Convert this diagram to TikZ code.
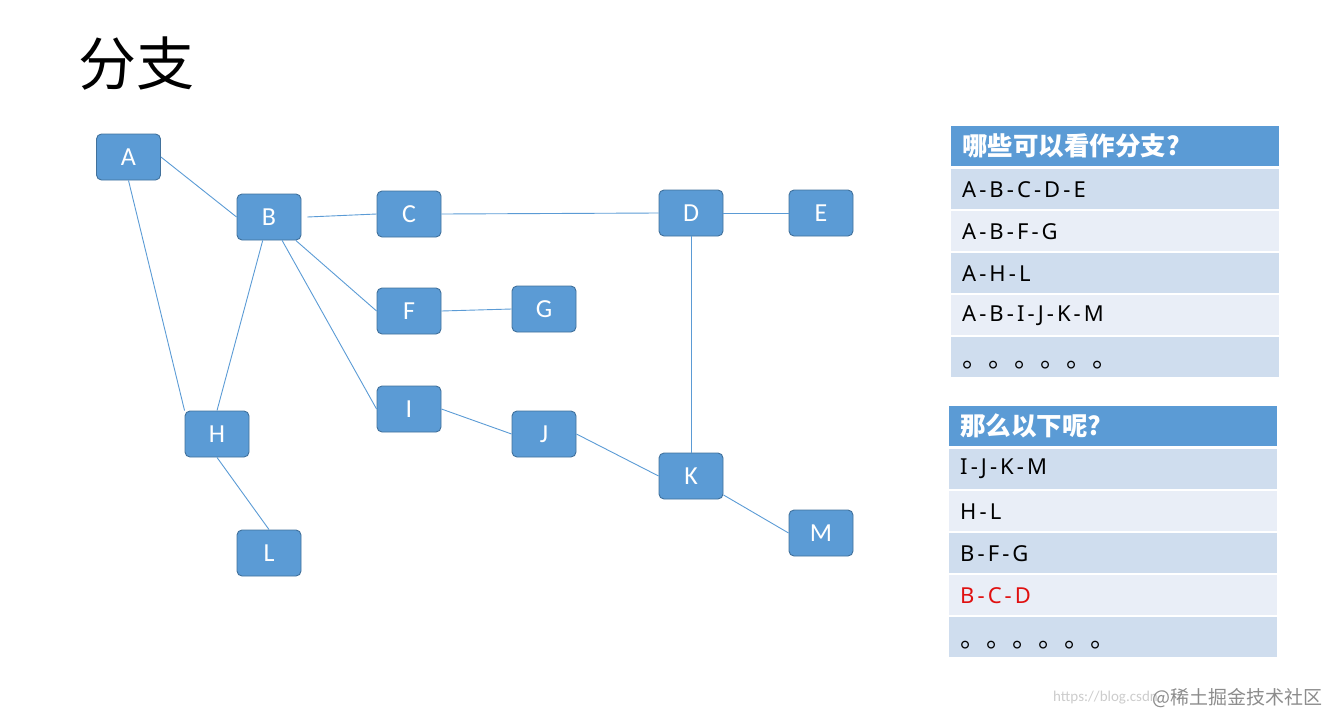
\documentclass[tikz,border=0pt]{standalone}
\usepackage{fontspec}
\setmainfont{Carlito}
\newfontfamily\cjk{Noto Sans CJK SC}
\newfontfamily\rowfont[LetterSpace=14]{Noto Sans}
\definecolor{nodeblue}{HTML}{5B9BD5}
\definecolor{nodeedge}{HTML}{41719C}
\definecolor{rowodd}{HTML}{CFDDEE}
\definecolor{roweven}{HTML}{E9EEF7}
\definecolor{redtxt}{HTML}{E01010}
\tikzset{
  vbox/.style={rectangle, rounded corners=5pt, fill=nodeblue, draw=nodeedge, line width=0.9pt,
    minimum width=64pt, minimum height=46pt, inner sep=0pt, text=white,
    font=\fontsize{26}{26}\selectfont},
  link/.style={draw=nodeblue, line width=0.9pt},
  cell/.style={rectangle, anchor=north west, minimum height=40pt, text width=306pt,
    inner xsep=11pt, inner ysep=0pt, align=left, font=\rowfont\fontsize{22}{22}\selectfont},
  headcell/.style={cell, fill=nodeblue, text=white, font=\cjk\bfseries\fontsize{25.5}{25.5}\selectfont},
  oddcell/.style={cell, fill=rowodd},
  evencell/.style={cell, fill=roweven},
  dotsfont/.style={font=\cjk\fontsize{26}{26}\selectfont, text height=16pt, text depth=4pt}
}
\begin{document}
\begin{tikzpicture}[x=1pt,y=-1pt]
\useasboundingbox (0,0) rectangle (1329,715);
% title
\node[anchor=base west, inner sep=0pt, font=\cjk\fontsize{58}{58}\selectfont] (title) at (78,85) {分支};
% graph nodes
\node[vbox] (A) at (128.5,157) {A};
\node[vbox] (B) at (269,217) {B};
\node[vbox] (C) at (409,214) {C};
\node[vbox] (D) at (691,213) {D};
\node[vbox] (E) at (821,213) {E};
\node[vbox] (F) at (409,311) {F};
\node[vbox] (G) at (544,309) {G};
\node[vbox] (H) at (217,434) {H};
\node[vbox] (I) at (409,409) {I};
\node[vbox] (J) at (544,434) {J};
\node[vbox] (K) at (691,476) {K};
\node[vbox] (L) at (269,553) {L};
\node[vbox] (M) at (821,533) {M};
% connectors
\draw[link] (A.east) -- (B.west);
\draw[link] (A.south) -- (H.north west);
\draw[link] (B) -- (H.north);
\draw[link] ([xshift=6pt]B.east) -- (C.west);
\draw[link] (B) -- (F.west);
\draw[link] (B) -- (I.west);
\draw[link] (C.east) -- (D.west);
\draw[link] (D.east) -- (E.west);
\draw[link] (D.south) -- (K.north);
\draw[link] (F.east) -- (G.west);
\draw[link] (I.east) -- (J.west);
\draw[link] (J.east) -- (K.west);
\draw[link] (K) -- (M.west);
\draw[link] (H.south) -- (L.north);
% table 1
\node[headcell] (t1h) at (951,126) {哪些可以看作分支?};
\node[oddcell] (t1a) at (951,169) {A-B-C-D-E};
\node[evencell] (t1b) at (951,211) {A-B-F-G};
\node[oddcell] (t1c) at (951,253) {A-H-L};
\node[evencell] (t1d) at (951,295) {A-B-I-J-K-M};
\node[oddcell, dotsfont] (t1e) at (951,337) {\raisebox{-4pt}{。。。。。。}};
% table 2
\node[headcell] (t2h) at (949,406) {那么以下呢?};
\node[oddcell] (t2a) at (949,449) {I-J-K-M};
\node[evencell] (t2b) at (949,491) {H-L};
\node[oddcell] (t2c) at (949,533) {B-F-G};
\node[evencell, text=redtxt] (t2d) at (949,575) {B-C-D};
\node[oddcell, dotsfont] (t2e) at (949,617) {\raisebox{-4pt}{。。。。。。}};
% watermark
\node[anchor=east, inner sep=0pt, text=black!20, font=\fontsize{15}{15}\selectfont] (wm1) at (1158,698) {https://blog.csdn};
\node[anchor=east, inner sep=0pt, text=black!45, font=\cjk\fontsize{19}{19}\selectfont] (wm2) at (1323,698) {@稀土掘金技术社区};
\end{tikzpicture}
\end{document}
